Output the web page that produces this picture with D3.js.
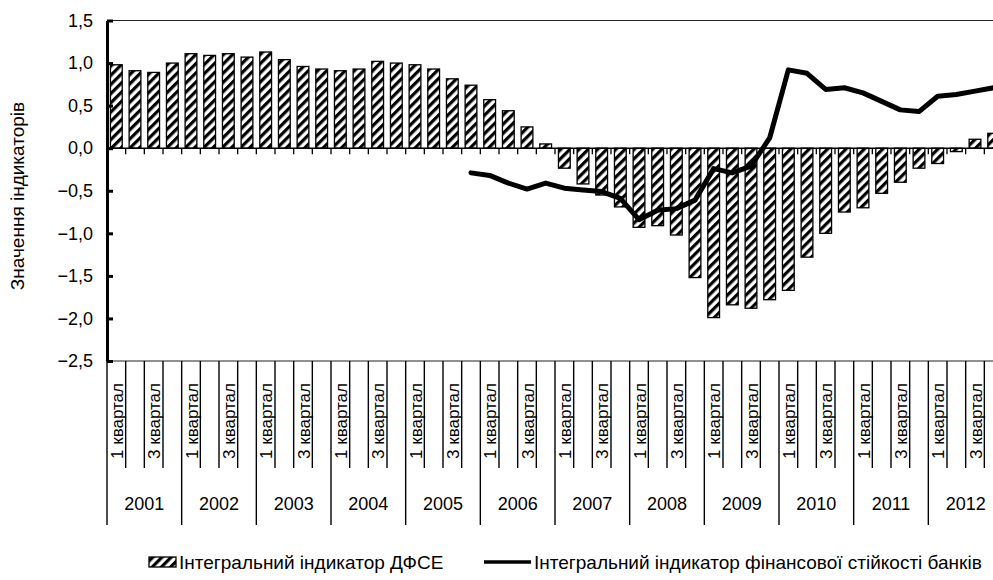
<!DOCTYPE html>
<html lang="uk">
<head>
<meta charset="UTF-8">
<title>Інтегральні індикатори</title>
<script src="https://d3js.org/d3.v7.min.js"></script>
<style>
    body { margin: 0; background: #fff; }
    svg { display: block; font-family: "Liberation Sans", Arial, sans-serif; }
</style>
</head>
<body>
<svg width="993" height="580"></svg>
<script>
// data
const years = [2001, 2002, 2003, 2004, 2005, 2006, 2007, 2008, 2009, 2010, 2011, 2012];
const quarterLabels = ["1 квартал", "", "3 квартал", ""];
const yTicks = [-2.5, -2.0, -1.5, -1.0, -0.5, 0.0, 0.5, 1.0, 1.5];

// Інтегральний індикатор ДФСЕ, by quarter 2001 Q1 .. 2012 Q4
const dfseValues = [
    0.98, 0.91, 0.89, 1.00,
    1.11, 1.09, 1.11, 1.07,
    1.13, 1.04, 0.96, 0.93,
    0.91, 0.93, 1.02, 1.00,
    0.98, 0.93, 0.815, 0.74,
    0.57, 0.44, 0.25, 0.05,
    -0.235, -0.42, -0.55, -0.69,
    -0.93, -0.91, -1.02, -1.52,
    -1.99, -1.84, -1.88, -1.78,
    -1.67, -1.28, -1.00, -0.75,
    -0.70, -0.53, -0.40, -0.235,
    -0.18, -0.04, 0.105, 0.175
];

// Інтегральний індикатор фінансової стійкості банків (starts 2005 Q4)
const bankValues = [
    null, null, null, null,
    null, null, null, null,
    null, null, null, null,
    null, null, null, null,
    null, null, null, -0.29,
    -0.32, -0.41, -0.48, -0.41,
    -0.47, -0.49, -0.51, -0.59,
    -0.84, -0.73, -0.71, -0.61,
    -0.24, -0.29, -0.21, 0.12,
    0.92, 0.88, 0.69, 0.71,
    0.65, 0.55, 0.45, 0.43,
    0.61, 0.63, 0.67, 0.71
];

const legendLabels = ["Інтегральний індикатор ДФСЕ", "Інтегральний індикатор фінансової стійкості банків"];

const svg = d3.select("svg");

const plotLeft = 107, plotRight = 1003, plotTop = 20.5, plotBottom = 361;
const idx = d3.range(dfseValues.length);

const x = d3.scaleBand().domain(idx).range([plotLeft, plotRight]);
const xBar = d3.scaleBand().domain(idx).range([plotLeft, plotRight]).paddingInner(0.37).paddingOuter(0.185);
const y = d3.scaleLinear().domain([-2.5, 1.5]).range([plotBottom, plotTop]);
const xYear = d3.scaleBand().domain(years).range([plotLeft, plotRight]);

// hatch pattern
const pat = svg.append("defs").append("pattern")
    .attr("id", "hatch")
    .attr("patternUnits", "userSpaceOnUse")
    .attr("width", 6.5)
    .attr("height", 6.5)
    .attr("patternTransform", "rotate(45)");
pat.append("rect").attr("width", 6.5).attr("height", 6.5).attr("fill", "#fff");
pat.append("rect").attr("width", 3.2).attr("height", 6.5).attr("fill", "#000");

// frame lines top and bottom
svg.append("line")
    .attr("x1", plotLeft).attr("x2", 993)
    .attr("y1", plotTop).attr("y2", plotTop)
    .attr("stroke", "#222").attr("stroke-width", 1.2);
svg.append("line")
    .attr("x1", plotLeft).attr("x2", 993)
    .attr("y1", plotBottom).attr("y2", plotBottom)
    .attr("stroke", "#222").attr("stroke-width", 1.2);

// bars
svg.append("g").selectAll("rect")
    .data(dfseValues)
    .join("rect")
    .attr("x", (d, i) => xBar(i))
    .attr("width", xBar.bandwidth())
    .attr("y", d => y(Math.max(0, d)))
    .attr("height", d => Math.abs(y(d) - y(0)))
    .attr("fill", "url(#hatch)")
    .attr("stroke", "#000")
    .attr("stroke-width", 1.3);

// zero line with small ticks
svg.append("line")
    .attr("x1", plotLeft).attr("x2", 993)
    .attr("y1", y(0)).attr("y2", y(0))
    .attr("stroke", "#000").attr("stroke-width", 1.5);
svg.append("g").selectAll("line")
    .data(idx.slice(1))
    .join("line")
    .attr("x1", i => x(i)).attr("x2", i => x(i))
    .attr("y1", y(0)).attr("y2", y(0) + 6)
    .attr("stroke", "#000").attr("stroke-width", 1.3);

// line series
const line = d3.line()
    .defined(d => d != null)
    .x((d, i) => x(i) + x.bandwidth() / 2)
    .y(d => y(d));
svg.append("path")
    .datum(bankValues)
    .attr("fill", "none")
    .attr("stroke", "#000")
    .attr("stroke-width", 5)
    .attr("stroke-linejoin", "round")
    .attr("stroke-linecap", "round")
    .attr("d", line);

// y axis
const yAxis = d3.axisLeft(y)
    .tickValues(yTicks)
    .tickSizeInner(-6)
    .tickSizeOuter(0)
    .tickPadding(14)
    .tickFormat(d => d3.format(".1f")(d).replace(".", ","));
const yg = svg.append("g")
    .attr("transform", `translate(${plotLeft},0)`)
    .call(yAxis);
yg.select(".domain").attr("stroke", "#000").attr("stroke-width", 3);
yg.selectAll(".tick line").attr("stroke", "#000").attr("stroke-width", 3);
yg.selectAll(".tick text")
    .attr("font-size", 18)
    .attr("font-family", "'Liberation Sans', Arial, sans-serif")
    .attr("fill", "#000");

svg.append("text")
    .attr("transform", "translate(24,196) rotate(-90)")
    .attr("text-anchor", "middle")
    .attr("font-size", 19)
    .text("Значення індикаторів");

// category axis below the plot
const catG = svg.append("g");
catG.selectAll("line.q")
    .data(idx)
    .join("line")
    .attr("class", "q")
    .attr("x1", i => x(i)).attr("x2", i => x(i))
    .attr("y1", plotBottom).attr("y2", i => i % 4 === 0 ? 525 : 468)
    .attr("stroke", "#000").attr("stroke-width", 1.4);

catG.selectAll("text.q")
    .data(idx.filter(i => quarterLabels[i % 4] !== ""))
    .join("text")
    .attr("class", "q")
    .attr("transform", i => `translate(${x(i) + x.bandwidth() / 2 + 1},421) rotate(-90)`)
    .attr("text-anchor", "middle")
    .attr("dominant-baseline", "central")
    .attr("font-size", 17)
    .text(i => quarterLabels[i % 4]);

catG.selectAll("text.y")
    .data(years)
    .join("text")
    .attr("class", "y")
    .attr("x", d => xYear(d) + xYear.bandwidth() / 2)
    .attr("y", 510)
    .attr("text-anchor", "middle")
    .attr("font-size", 18)
    .text(d => d);

// legend
const lg = svg.append("g");
lg.append("rect")
    .attr("x", 149).attr("y", 557)
    .attr("width", 27).attr("height", 10)
    .attr("fill", "url(#hatch)")
    .attr("stroke", "#000").attr("stroke-width", 1.3);
lg.append("text")
    .attr("x", 179).attr("y", 569)
    .attr("font-size", 19)
    .text(legendLabels[0]);
lg.append("line")
    .attr("x1", 484).attr("x2", 531)
    .attr("y1", 562).attr("y2", 562)
    .attr("stroke", "#000").attr("stroke-width", 3.5);
lg.append("text")
    .attr("x", 534).attr("y", 569)
    .attr("font-size", 19)
    .text(legendLabels[1]);
</script>
</body>
</html>
